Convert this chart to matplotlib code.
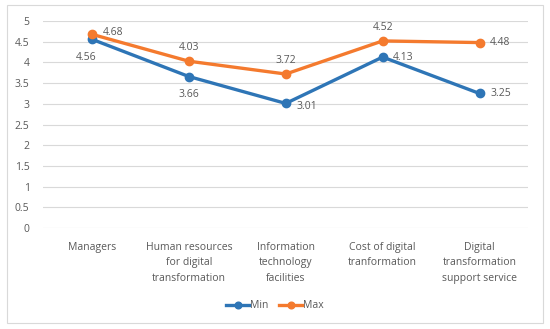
import matplotlib.pyplot as plt
from matplotlib.patches import Rectangle

plt.rcParams['font.family'] = ['Open Sans', 'DejaVu Sans']

categories = ["Managers", "Human resources\nfor digital\ntransformation",
              "Information\ntechnology\nfacilities", "Cost of digital\ntranformation",
              "Digital\ntransformation\nsupport service"]
min_vals = [4.56, 3.66, 3.01, 4.13, 3.25]
max_vals = [4.68, 4.03, 3.72, 4.52, 4.48]
yticks = [0, 0.5, 1, 1.5, 2, 2.5, 3, 3.5, 4, 4.5, 5]

blue = "#2E75B6"
orange = "#F47A2E"
grey = "#595959"

fig = plt.figure(figsize=(5.5, 3.29), dpi=100)
fig.patches.append(Rectangle((7/550, 6/329), 536/550, 318/329, transform=fig.transFigure,
                             fill=False, edgecolor="#D9D9D9", linewidth=0.8))
ax = fig.add_axes([0.079, 0.307, 0.881, 0.629])

x = range(len(categories))
ax.plot(x, min_vals, color=blue, lw=2.4, marker="o", ms=6, label="Min", zorder=3)
ax.plot(x, max_vals, color=orange, lw=2.4, marker="o", ms=6, label="Max", zorder=3)

# data labels: (dx, dy) offsets in points
min_off = [(-4, -13), (0, -13), (15, -2), (15, 0), (15, 0)]
max_off = [(15, 1), (0, 10), (0, 10), (0, 10), (15, 0)]
for i, v in enumerate(min_vals):
    ax.annotate(f"{v:.2f}", (i, v), xytext=min_off[i], textcoords="offset points",
                ha="center", va="center", fontsize=7.5, color=grey)
for i, v in enumerate(max_vals):
    ax.annotate(f"{v:.2f}", (i, v), xytext=max_off[i], textcoords="offset points",
                ha="center", va="center", fontsize=7.5, color=grey)

ax.set_xlim(-0.5, len(categories) - 0.5)
ax.set_ylim(0, 5)
ax.set_yticks(yticks)
ax.set_yticklabels([f"{t:g}" for t in yticks])
ax.set_xticks(list(x))
ax.set_xticklabels(categories, va="top", linespacing=1.55)
ax.tick_params(axis="both", length=0, labelsize=7.5, colors=grey)
ax.tick_params(axis="x", pad=10)
ax.tick_params(axis="y", pad=10)
ax.grid(axis="y", color="#D9D9D9", lw=0.8)
ax.set_axisbelow(True)
for s in ax.spines.values():
    s.set_visible(False)

fig.legend(loc="center", bbox_to_anchor=(0.5, 0.07), ncol=2, frameon=False,
           fontsize=7.5, labelcolor=grey, handlelength=2.2, columnspacing=1.0,
           handletextpad=0.1, markerscale=0.8)

fig.savefig("out.png", dpi=100)
